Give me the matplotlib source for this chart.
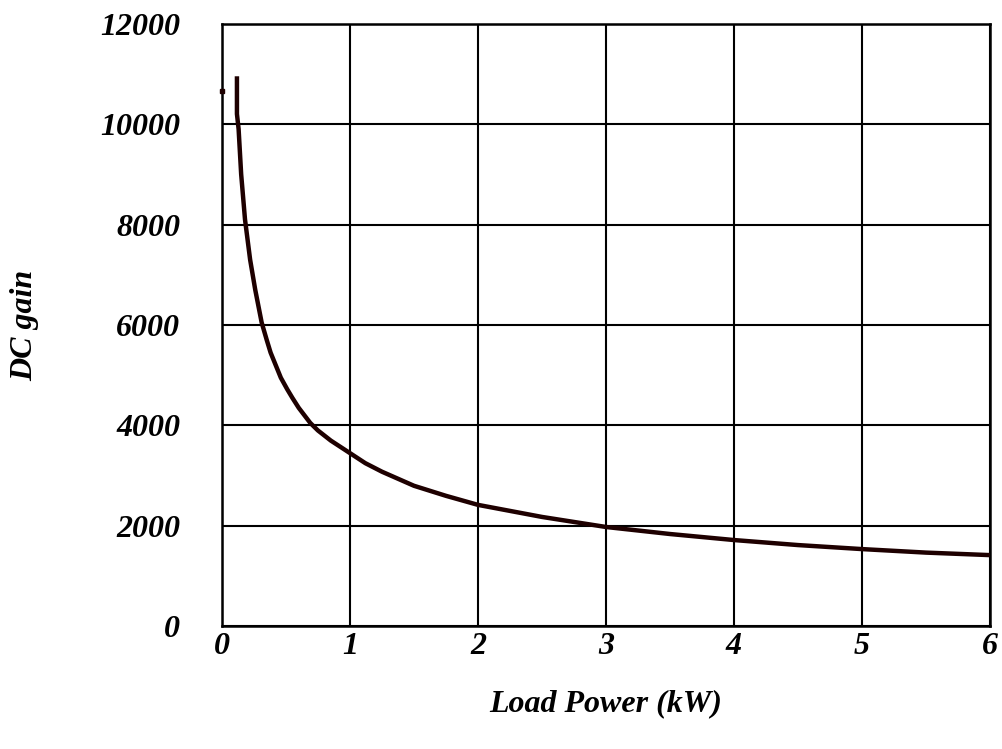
import numpy as np
import matplotlib.pyplot as plt

# Données
power_kw = [0.117, 0.117, 0.13, 0.15, 0.18, 0.22, 0.26, 0.31, 0.35, 0.38, 0.42,
            0.46, 0.51, 0.55, 0.6, 0.69, 0.75, 0.85, 1.0, 1.12, 1.25, 1.5, 1.75,
            2.0, 2.5, 3.0, 3.5, 4.0, 4.5, 5.0, 5.5, 6.0]
dc_gain = [10950, 10200, 9900, 9000, 8100, 7300, 6700, 6050, 5700, 5450, 5200,
           4950, 4720, 4550, 4350, 4050, 3900, 3700, 3450, 3250, 3080, 2800, 2600,
           2420, 2180, 1980, 1840, 1720, 1620, 1540, 1470, 1420]
dot_x = [0.0]
dot_y = [10650]

xticks = [0, 1, 2, 3, 4, 5, 6]
yticks = [0, 2000, 4000, 6000, 8000, 10000, 12000]

font = dict(family='Liberation Serif', weight='bold', style='italic')

fig = plt.figure(figsize=(10.03, 7.49), dpi=100)
ax = fig.add_axes([0.2213, 0.1636, 0.7657, 0.805])

ax.plot(power_kw, dc_gain, color='#1e0000', lw=3.2, solid_capstyle='butt', zorder=3)
ax.plot(dot_x, dot_y, 's', color='#1e0000', ms=3, zorder=3, clip_on=False)

ax.set_xlim(0, 6)
ax.set_ylim(0, 12000)
ax.set_xticks(xticks)
ax.set_yticks(yticks)
ax.set_xticklabels([str(v) for v in xticks], fontdict=dict(size=23, **font))
ax.set_yticklabels([str(v) for v in yticks], fontdict=dict(size=23, **font))
ax.tick_params(length=0)
ax.tick_params(axis='y', pad=30)
ax.tick_params(axis='x', pad=4)

ax.grid(True, color='black', lw=1.5)
for s in ax.spines.values():
    s.set_linewidth(1.8)

ax.set_xlabel('Load Power (kW)', fontdict=dict(size=23, **font), labelpad=20)
ax.set_ylabel('DC gain', fontdict=dict(size=23, **font), labelpad=44)

fig.savefig('out.png', dpi=100)
